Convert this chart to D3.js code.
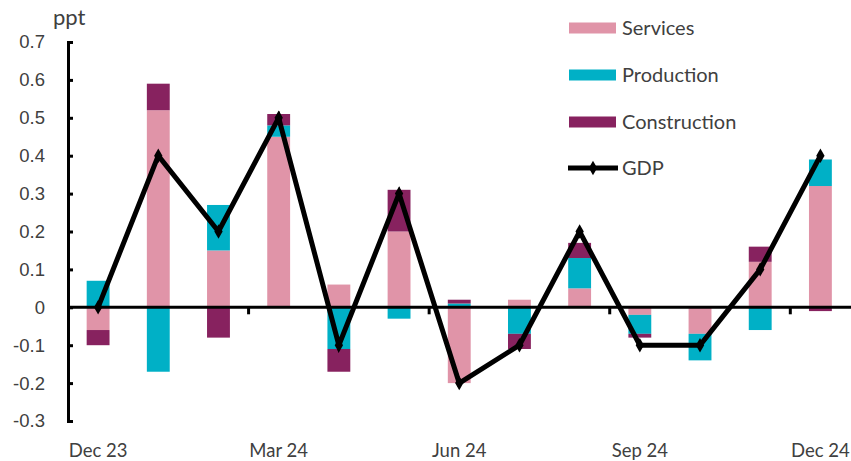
<!DOCTYPE html>
<html lang="en">
<head>
<meta charset="UTF-8">
<title>GDP contributions</title>
<script src="https://cdn.jsdelivr.net/npm/d3@7"></script>
<style>
  body { margin: 0; background: #fff; }
  svg { display: block; font-family: Lato, "Open Sans", sans-serif; }
  .tick text { fill: #404040; font-size: 18.5px; }
</style>
</head>
<body>
<svg id="chart" width="851" height="461"></svg>
<script>
// data (ppt contribution to growth)
const months = ["Dec 23", "Jan 24", "Feb 24", "Mar 24", "Apr 24", "May 24", "Jun 24",
                "Jul 24", "Aug 24", "Sep 24", "Oct 24", "Nov 24", "Dec 24"];
const services     = [-0.06, 0.52, 0.15, 0.45, 0.06, 0.20, -0.20, 0.02, 0.05, -0.02, -0.07, 0.12, 0.32];
const production   = [0.07, -0.17, 0.12, 0.03, -0.11, -0.03, 0.01, -0.07, 0.08, -0.05, -0.07, -0.06, 0.07];
const construction = [-0.04, 0.07, -0.08, 0.03, -0.06, 0.11, 0.01, -0.04, 0.04, -0.01, 0.00, 0.04, -0.01];
const gdp          = [0.0, 0.4, 0.2, 0.5, -0.1, 0.3, -0.2, -0.1, 0.2, -0.1, -0.1, 0.1, 0.4];
const labelMonths  = ["Dec 23", "Mar 24", "Jun 24", "Sep 24", "Dec 24"];
const quarterTicks = ["Mar 24", "Jun 24", "Sep 24", "Dec 24"];
const yTicks = [-0.3, -0.2, -0.1, 0, 0.1, 0.2, 0.3, 0.4, 0.5, 0.6, 0.7];

const series = [
  { name: "Services", values: services, color: "#E094A8" },
  { name: "Production", values: production, color: "#00B0C6" },
  { name: "Construction", values: construction, color: "#87225F" }
];

const svg = d3.select("#chart");
const left = 68;

const x = d3.scaleBand().domain(months).range([left, 850.5]).paddingInner(0.62).paddingOuter(0.31);
const xc = d => x(d) + x.bandwidth() / 2;
const xEdge = d => xc(d) - x.step() / 2;   // left edge of a month's slot
const y = d3.scaleLinear().domain([-0.3, 0.7]).range([421, 42]);

// stacked bars, positives and negatives stacked apart
const stack = d3.stack()
  .keys(series.map(s => s.name))
  .offset(d3.stackOffsetDiverging);
const rows = months.map((m, i) => {
  const r = { month: m };
  series.forEach(s => r[s.name] = s.values[i]);
  return r;
});
const layers = stack(rows);

svg.append("g").selectAll("g")
  .data(layers)
  .join("g")
  .attr("fill", (d, i) => series[i].color)
  .selectAll("rect")
  .data(d => d)
  .join("rect")
  .attr("x", d => x(d.data.month))
  .attr("width", x.bandwidth())
  .attr("y", d => y(Math.max(d[0], d[1])))
  .attr("height", d => Math.abs(y(d[0]) - y(d[1])));

// y axis
const yAxis = svg.append("g")
  .attr("transform", `translate(${left},0)`)
  .call(d3.axisLeft(y).tickValues(yTicks).tickSize(-5).tickPadding(23)
    .tickFormat(d => d === 0 ? "0" : d3.format(".1f")(d).replace("\u2212", "-")));
yAxis.select(".domain").attr("stroke", "#000").attr("stroke-width", 3);
yAxis.selectAll(".tick line").attr("stroke", "#000").attr("stroke-width", 3);

// zero line with quarter ticks
const xAxis = svg.append("g");
xAxis.append("line")
  .attr("x1", left).attr("x2", 851)
  .attr("y1", y(0)).attr("y2", y(0))
  .attr("stroke", "#000").attr("stroke-width", 3);
xAxis.selectAll("line.qt")
  .data(quarterTicks)
  .join("line")
  .attr("class", "qt")
  .attr("x1", d => xEdge(d)).attr("x2", d => xEdge(d))
  .attr("y1", y(0)).attr("y2", y(0) + 7)
  .attr("stroke", "#000").attr("stroke-width", 3);
xAxis.selectAll("text")
  .data(labelMonths)
  .join("text")
  .attr("x", d => xc(d))
  .attr("y", 457)
  .attr("text-anchor", "middle")
  .attr("fill", "#404040")
  .style("font-size", "18.5px")
  .text(d => d);

// GDP line
const line = d3.line().x((d, i) => xc(months[i])).y(d => y(d));
svg.append("path")
  .datum(gdp)
  .attr("fill", "none")
  .attr("stroke", "#000")
  .attr("stroke-width", 5)
  .attr("stroke-linejoin", "miter")
  .attr("d", line);
const diamond = d3.symbol().type(d3.symbolDiamond).size(60);
svg.append("g").selectAll("path")
  .data(gdp)
  .join("path")
  .attr("transform", (d, i) => `translate(${xc(months[i])},${y(d)})`)
  .attr("d", diamond)
  .attr("fill", "#000");

// unit label
svg.append("text")
  .attr("x", 53).attr("y", 25)
  .attr("fill", "#404040")
  .style("font-size", "22px")
  .text("ppt");

// legend
const legend = svg.append("g");
const legY = [28, 75, 122];
series.forEach((s, i) => {
  legend.append("rect")
    .attr("x", 569).attr("y", legY[i] - 5.5)
    .attr("width", 47).attr("height", 11)
    .attr("fill", s.color);
  legend.append("text")
    .attr("x", 622).attr("y", legY[i] + 7)
    .attr("fill", "#404040")
    .style("font-size", "20px")
    .text(s.name);
});
legend.append("line")
  .attr("x1", 568).attr("x2", 618)
  .attr("y1", 168).attr("y2", 168)
  .attr("stroke", "#000").attr("stroke-width", 5);
legend.append("path")
  .attr("transform", "translate(593,168)")
  .attr("d", diamond)
  .attr("fill", "#000");
legend.append("text")
  .attr("x", 622).attr("y", 175)
  .attr("fill", "#404040")
  .style("font-size", "20px")
  .text("GDP");
</script>
</body>
</html>
